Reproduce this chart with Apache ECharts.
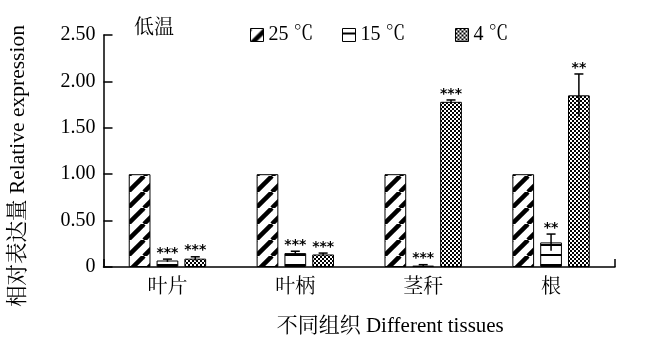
<!DOCTYPE html>
<html><head><meta charset="utf-8">
<script src="https://cdn.jsdelivr.net/npm/echarts@6/dist/echarts.min.js"></script>
<style>html,body{margin:0;padding:0;background:#fff}#c{width:656px;height:342px}</style>
</head><body><div id="c"></div>
<script>
const categories = ['叶片', '叶柄', '茎秆', '根'];
const seriesNames = ['25 ℃', '15 ℃', '4 ℃'];
const val25 = [1.00, 1.00, 1.00, 1.00];
const val15 = [0.07, 0.15, 0.015, 0.265];
const val4 = [0.09, 0.135, 1.78, 1.85];
const err15 = [0.015, 0.02, 0.01, 0.09];
const err4 = [0.02, 0.015, 0.02, 0.23];
const star15 = ['***', '***', '***', '**'];
const star4 = ['***', '***', '***', '**'];
const yTicks = [0, 0.5, 1.0, 1.5, 2.0, 2.5];

function makeCanvas(w, h, draw) {
  const c = document.createElement('canvas'); c.width = w; c.height = h;
  const g = c.getContext('2d'); g.fillStyle = '#fff'; g.fillRect(0, 0, w, h); draw(g); return c;
}
const stripe = makeCanvas(16, 16, g => {
  g.strokeStyle = '#000'; g.lineWidth = 4.5;
  for (let k = -1; k <= 1; k++) { g.beginPath(); g.moveTo(k * 16, 16); g.lineTo(k * 16 + 16, 0); g.stroke(); }
});
const hline = makeCanvas(10, 10, g => { g.fillStyle = '#000'; g.fillRect(0, 4, 10, 2); });
const checker = makeCanvas(4, 4, g => { g.fillStyle = '#000'; g.fillRect(0, 0, 2, 2); g.fillRect(2, 2, 2, 2); });
const patterns = [stripe, hline, checker].map(c => ({ image: c, repeat: 'repeat' }));

const BW = 0.17, GAP = 0.28;
const FONT = "'Liberation Serif', 'Noto Serif CJK SC', 'Noto Sans CJK SC', serif";

function errSeries(sIdx, vals, errs, stars) {
  return {
    type: 'custom', z: 5, silent: true,
    data: vals.map((v, i) => [i, v, errs[i]]),
    renderItem(params, api) {
      const ci = api.value(0), v = api.value(1), e = api.value(2);
      const band = api.size([1, 0])[0];
      const off = band * BW * (1 + GAP) * (sIdx - 1);
      const t = api.coord([ci, v + e]), b = api.coord([ci, Math.max(0, v - e)]);
      const x = t[0] + off;
      const st = { stroke: '#000', lineWidth: 1.5 };
      return { type: 'group', children: [
        { type: 'line', shape: { x1: x, y1: t[1], x2: x, y2: b[1] }, style: st },
        { type: 'line', shape: { x1: x - 4.5, y1: t[1], x2: x + 4.5, y2: t[1] }, style: st },
        { type: 'text', style: { text: stars[params.dataIndex], x: x, y: t[1] + 1, align: 'center', verticalAlign: 'bottom',
          font: "bold 14px 'DejaVu Sans'", fill: '#000' } }
      ] };
    }
  };
}

const chart = echarts.init(document.getElementById('c'), null, { renderer: 'canvas' });
const legendLefts = [250, 342, 455];
chart.setOption({
  animation: false,
  title: { text: '低温', left: 134, top: 19, padding: 0, textStyle: { fontFamily: FONT, fontSize: 20, fontWeight: 'normal', color: '#000' } },
  legend: seriesNames.map((n, i) => ({
    data: [{ name: n, icon: 'rect' }], left: legendLefts[i], top: 25, padding: 0, itemWidth: 13, itemHeight: 13, itemGap: 0,
    textStyle: { fontFamily: FONT, fontSize: 20, color: '#000', padding: [2, 0, 0, 0] },
    itemStyle: { borderColor: '#000', borderWidth: 1 }
  })),
  grid: { left: 103, right: 41, top: 35, bottom: 74 },
  xAxis: {
    type: 'category', data: categories,
    name: '不同组织 Different tissues', nameLocation: 'middle', nameGap: 49,
    nameTextStyle: { fontFamily: FONT, fontSize: 21, color: '#000', padding: [0, 0, 0, 62] },
    axisLine: { lineStyle: { color: '#000', width: 1.5 } },
    axisTick: { show: true, inside: true, length: 8, interval: (i) => i === 3, lineStyle: { color: '#000', width: 1.5 } },
    axisLabel: { fontFamily: FONT, fontSize: 20, color: '#000', margin: 11 }
  },
  yAxis: {
    type: 'value', min: yTicks[0], max: yTicks[yTicks.length - 1], interval: 0.5,
    name: '相对表达量 Relative expression', nameLocation: 'middle', nameGap: 74, nameRotate: 90,
    nameTextStyle: { fontFamily: FONT, fontSize: 21.5, color: '#000', padding: [0, 30, 0, 0] },
    axisLine: { show: true, lineStyle: { color: '#000', width: 1.5 } },
    axisTick: { show: true, inside: true, length: 9, lineStyle: { color: '#000', width: 1.5 } },
    splitLine: { show: false },
    axisLabel: { fontFamily: FONT, fontSize: 20, color: '#000', margin: 8, formatter: v => v === 0 ? '0' : v.toFixed(2) }
  },
  series: [
    { name: seriesNames[0], type: 'bar', data: val25, barWidth: (BW * 100) + '%', barGap: (GAP * 100) + '%',
      itemStyle: { color: patterns[0], borderColor: '#000', borderWidth: 1 } },
    { name: seriesNames[1], type: 'bar', data: val15, barWidth: (BW * 100) + '%', barGap: (GAP * 100) + '%',
      itemStyle: { color: patterns[1], borderColor: '#000', borderWidth: 1 } },
    { name: seriesNames[2], type: 'bar', data: val4, barWidth: (BW * 100) + '%', barGap: (GAP * 100) + '%',
      itemStyle: { color: patterns[2], borderColor: '#000', borderWidth: 1 } },
    errSeries(1, val15, err15, star15),
    errSeries(2, val4, err4, star4)
  ]
});
</script></body></html>
